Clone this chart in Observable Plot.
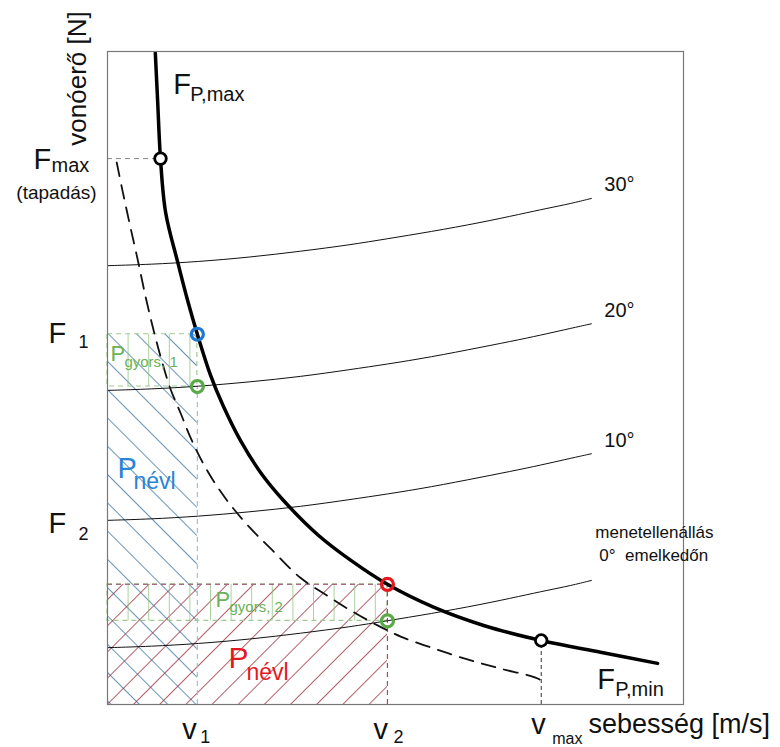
<!DOCTYPE html>
<html><head><meta charset="utf-8">
<script src="https://cdn.jsdelivr.net/npm/d3@7"></script>
<script src="https://cdn.jsdelivr.net/npm/@observablehq/plot@0.6"></script>
<style>body{margin:0;background:#fff}</style>
</head><body><div id="chart"></div>
<script>
// ---- tick values (speed / force levels) ----
const v1 = 15.6, v2 = 48.6, vMax = 75.3, vFmax = 9.2;
const F1 = 56.7, F2 = 27.9, FMax = 83.6;
const FresV1 = 48.7;   // resistance on 20° at v1
const FredV2 = 18.4;   // traction at v2
const FresV2 = 12.8;   // resistance on 0° at v2
const FatVmax = 9.8;

// ---- F_P,max curve (thick) ----
const fPmaxV = [8.3, 8.7, 9.2, 10.1, 12.2, 13.9, 15.6, 17.9, 20.0, 23.1, 26.6, 30.6, 36.5, 42.2, 48.6, 56.6, 65.3, 75.3, 85.6, 95.5];
const fPmaxF = [99.8, 92.5, 83.6, 75.3, 67.7, 61.9, 56.7, 50.4, 45.9, 40.4, 35.5, 31.2, 26.0, 22.1, 18.4, 14.9, 12.1, 9.8, 8.0, 6.3];

// ---- F_P,min curve (dashed) ----
const fPminV = [1.6, 2.6, 3.8, 5.2, 6.6, 8.0, 9.4, 10.9, 12.7, 14.4, 16.5, 18.8, 21.4, 24.8, 28.3, 33.5, 37.9, 42.2, 46.5, 50.9, 56.6, 62.5, 68.2, 75.2, 75.5];
const fPminF = [83.0, 78.7, 73.8, 68.3, 62.5, 57.3, 52.7, 48.4, 44.6, 40.9, 37.1, 33.7, 30.5, 27.0, 23.9, 19.4, 16.8, 14.4, 12.3, 10.4, 8.6, 6.9, 5.5, 3.7, 2.8];

// ---- running resistance on gradients ----
const resV  = [0, 7.5, 15.6, 24.8, 33.5, 42.2, 48.4, 56.1, 64.8, 71.7, 76.4, 80.4, 84.0];
const res30 = [67.2, 67.4, 67.8, 68.5, 69.4, 70.4, 71.3, 72.4, 73.8, 75.1, 76.0, 76.7, 77.5];
const res20 = [48.1, 48.3, 48.7, 49.4, 50.2, 51.3, 52.1, 53.2, 54.7, 55.9, 56.8, 57.6, 58.3];
const res10 = [28.2, 28.4, 28.8, 29.5, 30.3, 31.4, 32.2, 33.3, 34.8, 36.0, 36.9, 37.7, 38.4];
const res0  = [8.7, 8.9, 9.3, 10.0, 10.9, 11.9, 12.8, 13.9, 15.3, 16.6, 17.5, 18.2, 19.0];
const gradeLabels = ["30°", "20°", "10°"];

const toPts = (xs, ys) => xs.map((x, i) => ({x, y: ys[i]}));
const curves = [res30, res20, res10, res0].map(r => toPts(resV, r));
const last = resV.length - 1;
const gradeEnds = [res30, res20, res10].map((r, i) => ({x: resV[last], y: r[last], t: gradeLabels[i]}));

const FONT = "'Liberation Sans', Arial, sans-serif";
function rich(anchor, parts) {
  return parts.map(p => Plot.text([anchor], {
    x: d => d[0], y: d => d[1], text: () => p.t,
    dx: p.dx, dy: p.dy, fontSize: p.s, fill: p.c || "#111",
    textAnchor: p.a || "start", lineAnchor: "bottom"
  }));
}

const blue = "#2a84d6", red = "#e3181f", green = "#6ab257";

const chart = Plot.plot({
  width: 780, height: 747,
  marginLeft: 107, marginRight: 97, marginTop: 51, marginBottom: 43,
  x: {domain: [0, 100], axis: null},
  y: {domain: [0, 100], axis: null},
  style: {fontFamily: FONT, background: "white", overflow: "visible"},
  marks: [
    // hatched areas
    Plot.rect([{x1: 0, x2: v1, y1: 0, y2: F1}], {x1: "x1", x2: "x2", y1: "y1", y2: "y2", fill: "url(#hBlue)"}),
    Plot.rect([{x1: 0, x2: v2, y1: 0, y2: FredV2}], {x1: "x1", x2: "x2", y1: "y1", y2: "y2", fill: "url(#hRed)"}),
    Plot.rect([{x1: 0, x2: v1, y1: FresV1, y2: F1}, {x1: 0, x2: v2, y1: FresV2, y2: FredV2}],
      {x1: "x1", x2: "x2", y1: "y1", y2: "y2", fill: "url(#hGreen)", stroke: "#9fcb90", strokeWidth: 1.2, strokeDasharray: "5,4"}),
    // dashed guides
    Plot.ruleX([v1], {y1: 0, y2: FresV1, stroke: "#9cc0e2", strokeWidth: 1.2, strokeDasharray: "5,4"}),
    Plot.ruleX([v2], {y1: 0, y2: FredV2, stroke: "#a84a66", strokeWidth: 1.2, strokeDasharray: "5,4"}),
    Plot.ruleY([FredV2], {x1: 0, x2: v2, stroke: "#a86a80", strokeWidth: 1.2, strokeDasharray: "5,4"}),
    Plot.ruleY([FMax], {x1: 0, x2: vFmax, stroke: "#888", strokeWidth: 1, strokeDasharray: "5,4"}),
    Plot.ruleX([vMax], {y1: 0, y2: FatVmax, stroke: "#333", strokeWidth: 1, strokeDasharray: "4,3"}),
    // resistance curves
    ...curves.map(c => Plot.line(c, {x: "x", y: "y", stroke: "#111", strokeWidth: 1, curve: "basis"})),
    // F_P,min dashed
    Plot.line(toPts(fPminV, fPminF), {x: "x", y: "y", stroke: "#111", strokeWidth: 1.8, strokeDasharray: "14,9", curve: "catmull-rom"}),
    // F_P,max thick
    Plot.line(toPts(fPmaxV, fPmaxF), {x: "x", y: "y", stroke: "#000", strokeWidth: 3.5, curve: "catmull-rom"}),
    Plot.frame({stroke: "#777", strokeWidth: 1.2}),
    // markers
    Plot.dot([{x: vFmax, y: FMax}, {x: vMax, y: FatVmax}], {x: "x", y: "y", r: 5.8, fill: "white", stroke: "#000", strokeWidth: 2.8}),
    Plot.dot([{x: v1, y: F1}], {x: "x", y: "y", r: 6, fill: "none", stroke: "#1c78d0", strokeWidth: 3.2}),
    Plot.dot([{x: v1, y: FresV1}, {x: v2, y: FresV2}], {x: "x", y: "y", r: 6, fill: "none", stroke: "#5aa848", strokeWidth: 3.2}),
    Plot.dot([{x: v2, y: FredV2}], {x: "x", y: "y", r: 6, fill: "none", stroke: red, strokeWidth: 3.2}),
    // gradient labels
    Plot.text(gradeEnds, {x: "x", y: "y", text: "t", dx: 13, dy: -7, fontSize: 20, fill: "#111", textAnchor: "start", lineAnchor: "bottom"}),
    ...rich([resV[last], res0[last]], [
      {t: "menetellenállás", dx: 4, dy: -42, s: 17},
      {t: "0°\u00a0\u00a0emelkedőn", dx: 8, dy: -19, s: 17}
    ]),
    // y tick labels
    ...rich([0, FMax], [{t: "F", dx: -74, dy: 10, s: 29}, {t: "max", dx: -56, dy: 13, s: 20}]),
    ...rich([0, FMax], [{t: "(tapadás)", dx: -51, dy: 40, s: 19, a: "middle"}]),
    ...rich([0, F1], [{t: "F", dx: -59, dy: 9, s: 29}, {t: "1", dx: -29, dy: 14, s: 18}]),
    ...rich([0, F2], [{t: "F", dx: -59, dy: 11, s: 29}, {t: "2", dx: -29, dy: 18, s: 18}]),
    // x tick labels
    ...rich([v1, 0], [{t: "v", dx: -15, dy: 34, s: 29}, {t: "1", dx: 3, dy: 38, s: 18}]),
    ...rich([v2, 0], [{t: "v", dx: -14, dy: 34, s: 29}, {t: "2", dx: 6, dy: 38, s: 18}]),
    ...rich([vMax, 0], [{t: "v", dx: -10, dy: 29, s: 29}, {t: "max", dx: 11, dy: 39, s: 16}]),
    // axis titles
    Plot.text([[0, 100]], {x: d => d[0], y: d => d[1], text: () => "vonóerő [N]", rotate: -90, dx: -30, dy: 27, fontSize: 26, fill: "#111", textAnchor: "middle", lineAnchor: "middle"}),
    ...rich([100, 0], [{t: "sebesség [m/s]", dx: -95, dy: 28, s: 27}]),
    // curve labels
    ...rich([fPmaxV[0], fPmaxF[0]], [{t: "F", dx: 18, dy: 41, s: 29}, {t: "P,max", dx: 35, dy: 48, s: 20}]),
    ...rich([vMax, 0], [{t: "F", dx: 56, dy: -16, s: 29}, {t: "P,min", dx: 74, dy: -9, s: 20}]),
    // area labels
    ...rich([v1 / 2, F2], [{t: "P", dx: -35, dy: -44, s: 29, c: blue}, {t: "névl", dx: -19, dy: -33, s: 23, c: blue}]),
    ...rich([v1 / 2, (FresV1 + F1) / 2], [{t: "P", dx: -42, dy: 1, s: 22, c: green}, {t: "gyors, 1", dx: -28, dy: 7, s: 15, c: green}]),
    ...rich([v2 / 2, (FresV2 + FredV2) / 2], [{t: "P", dx: -32, dy: 4, s: 22, c: green}, {t: "gyors, 2", dx: -18, dy: 9, s: 15, c: green}]),
    ...rich([v2 / 2, FredV2 / 2], [{t: "P", dx: -19, dy: 24, s: 30, c: red}, {t: "névl", dx: -1, dy: 36, s: 23, c: red}])
  ]
});

const defs = document.createElementNS("http://www.w3.org/2000/svg", "defs");
defs.innerHTML = `
<pattern id="hBlue" patternUnits="userSpaceOnUse" width="20" height="20" patternTransform="rotate(-45)">
  <line x1="0" y1="-5" x2="0" y2="25" stroke="#36729f" stroke-width="1.5"/></pattern>
<pattern id="hRed" patternUnits="userSpaceOnUse" width="18.5" height="18.5" patternTransform="rotate(45)">
  <line x1="0" y1="-5" x2="0" y2="25" stroke="#9a2a38" stroke-width="1.5"/></pattern>
<pattern id="hGreen" patternUnits="userSpaceOnUse" x="107" y="0" width="20.6" height="40">
  <line x1="0" y1="0" x2="0" y2="40" stroke="#86c074" stroke-width="1.4"/></pattern>`;
chart.prepend(defs);
document.getElementById("chart").appendChild(chart);
</script></body></html>
